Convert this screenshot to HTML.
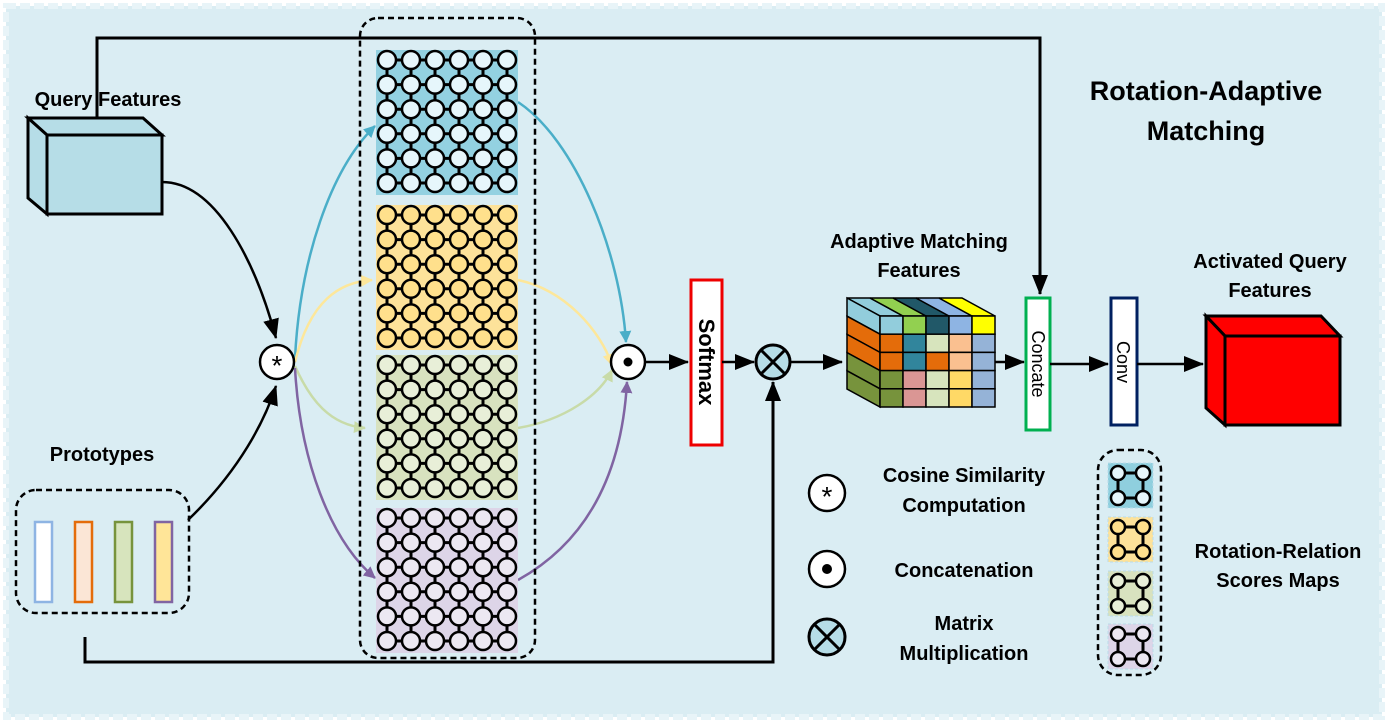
<!DOCTYPE html>
<html><head><meta charset="utf-8"><style>
html,body{margin:0;padding:0;background:#fff}
svg{display:block}
text{font-family:"Liberation Sans",sans-serif;font-weight:bold}
</style></head><body>
<svg id="s" width="1390" height="723" viewBox="0 0 1390 723" xmlns="http://www.w3.org/2000/svg">
<defs>
<marker id="ab" markerWidth="12" markerHeight="12" refX="11" refY="6" orient="auto" markerUnits="userSpaceOnUse"><path d="M0,0 L12,6 L0,12z" fill="#4aaec8"/></marker>
<marker id="ay" markerWidth="12" markerHeight="12" refX="11" refY="6" orient="auto" markerUnits="userSpaceOnUse"><path d="M0,0 L12,6 L0,12z" fill="#fde79a"/></marker>
<marker id="ag" markerWidth="12" markerHeight="12" refX="11" refY="6" orient="auto" markerUnits="userSpaceOnUse"><path d="M0,0 L12,6 L0,12z" fill="#c8dba8"/></marker>
<marker id="ap" markerWidth="12" markerHeight="12" refX="11" refY="6" orient="auto" markerUnits="userSpaceOnUse"><path d="M0,0 L12,6 L0,12z" fill="#8064a2"/></marker>
<marker id="a2" markerWidth="20" markerHeight="20" refX="19" refY="8" orient="auto" markerUnits="userSpaceOnUse"><path d="M0,0 L20,8 L0,16z" fill="#000"/></marker>
</defs>
<rect x="0" y="0" width="1390" height="723" fill="#fff"/>
<rect x="6" y="6" width="1376" height="711" fill="#daedf3" stroke="#e8f4f8" stroke-width="6" stroke-dasharray="10 4"/>

<path d="M97,118 V38 H1040 V294" fill="none" stroke="#000" stroke-width="3" marker-end="url(#a2)"/>
<path d="M85,637 V662 H773 V382" fill="none" stroke="#000" stroke-width="3" marker-end="url(#a2)"/>

<polygon points="28,118 143,118 162,135 47,135" fill="#b6dde7" stroke="#000" stroke-width="3"/>
<polygon points="28,118 47,135 47,214 28,198" fill="#b6dde7" stroke="#000" stroke-width="3"/>
<rect x="47" y="135" width="115" height="79" fill="#b6dde7" stroke="#000" stroke-width="3"/>
<text x="108" y="106" font-size="20" text-anchor="middle">Query Features</text>

<text x="102" y="461" font-size="20" text-anchor="middle">Prototypes</text>
<rect x="16" y="490" width="173" height="123" rx="20" fill="none" stroke="#000" stroke-width="2.5" stroke-dasharray="6 4"/>
<rect x="35" y="522" width="17" height="80" fill="#fff" stroke="#8eb4e3" stroke-width="2.5"/>
<rect x="75" y="522" width="17" height="80" fill="#fbe6d6" stroke="#e46c0a" stroke-width="2.5"/>
<rect x="115" y="522" width="17" height="80" fill="#d7e4bd" stroke="#77933c" stroke-width="2.5"/>
<rect x="155" y="522" width="17" height="80" fill="#ffe598" stroke="#8064a2" stroke-width="2.5"/>

<path d="M162,182 C215,182 255,260 276,338" fill="none" stroke="#000" stroke-width="2.5" marker-end="url(#a2)"/>
<path d="M188,520 C240,470 265,420 276,386" fill="none" stroke="#000" stroke-width="2.5" marker-end="url(#a2)"/>

<path d="M295,358 C300,260 330,170 375,126" fill="none" stroke="#4aaec8" stroke-width="2.5" marker-end="url(#ab)"/>
<path d="M295,362 C310,300 340,282 372,280" fill="none" stroke="#fde79a" stroke-width="2.5" marker-end="url(#ay)"/>
<path d="M295,366 C310,400 330,425 365,428" fill="none" stroke="#c8dba8" stroke-width="2.5" marker-end="url(#ag)"/>
<path d="M295,368 C300,460 330,540 375,578" fill="none" stroke="#8064a2" stroke-width="2.5" marker-end="url(#ap)"/>

<path d="M518,102 C575,140 620,250 626,342" fill="none" stroke="#4aaec8" stroke-width="2.5" marker-end="url(#ab)"/>
<path d="M518,280 C565,290 600,330 612,365" fill="none" stroke="#fde79a" stroke-width="2.5" marker-end="url(#ay)"/>
<path d="M518,428 C565,420 600,395 612,370" fill="none" stroke="#c8dba8" stroke-width="2.5" marker-end="url(#ag)"/>
<path d="M518,580 C590,540 622,470 627,382" fill="none" stroke="#8064a2" stroke-width="2.5" marker-end="url(#ap)"/>

<rect x="360" y="18" width="175" height="640" rx="18" fill="none" stroke="#000" stroke-width="2.5" stroke-dasharray="6 4"/>
<g id="grids"></g>

<circle cx="277" cy="362" r="17" fill="#fff" stroke="#000" stroke-width="2.5"/>
<text x="277" y="375" font-size="28" text-anchor="middle" style="font-weight:normal">*</text>
<circle cx="628" cy="362" r="17" fill="#fff" stroke="#000" stroke-width="2.5"/>
<circle cx="628" cy="362" r="4.5" fill="#000"/>
<path d="M645,362 H688" stroke="#000" stroke-width="2.5" marker-end="url(#a2)"/>
<rect x="691" y="280" width="31" height="165" fill="#fff" stroke="#e00" stroke-width="3"/>
<text transform="translate(699,362) rotate(90)" font-size="22" text-anchor="middle">Softmax</text>
<path d="M722,362 H754" stroke="#000" stroke-width="2.5" marker-end="url(#a2)"/>
<circle cx="773" cy="362" r="17" fill="#b6dde7" stroke="#000" stroke-width="3"/>
<path d="M761,350 L785,374 M785,350 L761,374" stroke="#000" stroke-width="3"/>
<path d="M790,362 H842" stroke="#000" stroke-width="2.5" marker-end="url(#a2)"/>

<text x="919" y="248" font-size="20" text-anchor="middle">Adaptive Matching</text>
<text x="919" y="277" font-size="20" text-anchor="middle">Features</text>
<g id="cube" stroke="#000" stroke-width="1.5"></g>

<path d="M995,362 H1024" stroke="#000" stroke-width="2.5" marker-end="url(#a2)"/>
<rect x="1026" y="298" width="24" height="132" fill="#fff" stroke="#00b050" stroke-width="3"/>
<text transform="translate(1032,364) rotate(90)" font-size="18" text-anchor="middle" style="font-weight:normal">Concate</text>
<path d="M1050,364 H1108" stroke="#000" stroke-width="2.5" marker-end="url(#a2)"/>
<rect x="1111" y="298" width="26" height="127" fill="#fff" stroke="#002060" stroke-width="3"/>
<text transform="translate(1117,362) rotate(90)" font-size="18" text-anchor="middle" style="font-weight:normal">Conv</text>
<path d="M1137,364 H1203" stroke="#000" stroke-width="2.5" marker-end="url(#a2)"/>

<polygon points="1206,316 1321,316 1340,336 1225,336" fill="#f00" stroke="#000" stroke-width="3"/>
<polygon points="1206,316 1225,336 1225,425 1206,408" fill="#f00" stroke="#000" stroke-width="3"/>
<rect x="1225" y="336" width="115" height="89" fill="#f00" stroke="#000" stroke-width="3"/>
<text x="1270" y="268" font-size="20" text-anchor="middle">Activated Query</text>
<text x="1270" y="297" font-size="20" text-anchor="middle">Features</text>

<text x="1206" y="100" font-size="27" text-anchor="middle">Rotation-Adaptive</text>
<text x="1206" y="140" font-size="27" text-anchor="middle">Matching</text>

<circle cx="827" cy="493" r="18" fill="#fff" stroke="#000" stroke-width="2.5"/>
<text x="827" y="506" font-size="28" text-anchor="middle" style="font-weight:normal">*</text>
<text x="964" y="482" font-size="20" text-anchor="middle">Cosine Similarity</text>
<text x="964" y="512" font-size="20" text-anchor="middle">Computation</text>
<circle cx="827" cy="569" r="18" fill="#fff" stroke="#000" stroke-width="2.5"/>
<circle cx="827" cy="569" r="5" fill="#000"/>
<text x="964" y="577" font-size="20" text-anchor="middle">Concatenation</text>
<circle cx="827" cy="637" r="18" fill="#b6dde7" stroke="#000" stroke-width="3"/>
<path d="M814,624 L840,650 M840,624 L814,650" stroke="#000" stroke-width="3"/>
<text x="964" y="630" font-size="20" text-anchor="middle">Matrix</text>
<text x="964" y="660" font-size="20" text-anchor="middle">Multiplication</text>
<rect x="1098" y="450" width="63" height="225" rx="20" fill="none" stroke="#000" stroke-width="2.5" stroke-dasharray="6 4"/>
<g id="leg"></g>
<text x="1278" y="558" font-size="20" text-anchor="middle">Rotation-Relation</text>
<text x="1278" y="587" font-size="20" text-anchor="middle">Scores Maps</text>
</svg>
<script>
(function(){
var NS="http://www.w3.org/2000/svg";
function el(p,t,a){var e=document.createElementNS(NS,t);for(var k in a)e.setAttribute(k,a[k]);p.appendChild(e);return e;}
var g=document.getElementById("grids");
var blocks=[[50,"#93d1e1","#e6f6fb"],[205,"#fde29a","#ffe08c"],[355,"#d8e2bf","#e8efd8"],[508,"#ddd5e8","#ece8f2"]];
blocks.forEach(function(b){
  var y0=b[0];
  el(g,"rect",{x:376,y:y0,width:142,height:145,fill:b[1]});
  var xs=[],ys=[];
  for(var i=0;i<6;i++){xs.push(387+i*24);ys.push(y0+10+i*24.6);}
  for(var r=0;r<6;r++){el(g,"line",{x1:xs[0],y1:ys[r],x2:xs[5],y2:ys[r],stroke:"#000","stroke-width":3});}
  for(var c=0;c<6;c++){el(g,"line",{x1:xs[c],y1:ys[0],x2:xs[c],y2:ys[5],stroke:"#000","stroke-width":3});}
  for(var r=0;r<6;r++)for(var c=0;c<6;c++)el(g,"circle",{cx:xs[c],cy:ys[r],r:9,fill:b[2],stroke:"#000","stroke-width":2.5});
});
var cb=document.getElementById("cube");
var topc=["#92cddc","#92d050","#215868","#8eb4e3","#ffff00"];
var rows=[["#e46c0a","#31859c","#d7e4bd","#fac090","#95b3d7"],["#e46c0a","#31859c","#e46c0a","#fac090","#95b3d7"],["#77933c","#da9694","#d7e4bd","#ffd966","#95b3d7"],["#77933c","#da9694","#d7e4bd","#ffd966","#95b3d7"]];
var side=["#e46c0a","#e46c0a","#77933c","#77933c"];
var fx=880,fy=316,cw=23,ch=18.2,dx=-33,dy=-18;
for(var i=0;i<5;i++){el(cb,"polygon",{points:(fx+i*cw)+","+fy+" "+(fx+(i+1)*cw)+","+fy+" "+(fx+(i+1)*cw+dx)+","+(fy+dy)+" "+(fx+i*cw+dx)+","+(fy+dy),fill:topc[i]});}
for(var r=-1;r<4;r++){var c=r<0?"#92cddc":side[r];var yy=fy+(r+1)*ch;
 el(cb,"polygon",{points:fx+","+yy+" "+fx+","+(yy+ch)+" "+(fx+dx)+","+(yy+ch+dy)+" "+(fx+dx)+","+(yy+dy),fill:c});}
for(var i=0;i<5;i++)el(cb,"rect",{x:fx+i*cw,y:fy,width:cw,height:ch,fill:topc[i]});
for(var r=0;r<4;r++)for(var i=0;i<5;i++)el(cb,"rect",{x:fx+i*cw,y:fy+(r+1)*ch,width:cw,height:ch,fill:rows[r][i]});
var lg=document.getElementById("leg");
[[463,"#8fcfde","#e6f6fb"],[517,"#fde29a","#ffe08c"],[571,"#d8e2bf","#e8efd8"],[624,"#ddd5e8","#ece8f2"]].forEach(function(b){
 var y=b[0];el(lg,"rect",{x:1108,y:y,width:45,height:45,fill:b[1],stroke:"#b9dcea","stroke-dasharray":"3 2"});
 el(lg,"rect",{x:1118,y:y+10,width:25,height:25,fill:"none",stroke:"#000","stroke-width":3});
 [[1118,y+10],[1143,y+10],[1118,y+35],[1143,y+35]].forEach(function(p){el(lg,"circle",{cx:p[0],cy:p[1],r:7,fill:b[2],stroke:"#000","stroke-width":2.5});});
});
})();
</script>
</body></html>
